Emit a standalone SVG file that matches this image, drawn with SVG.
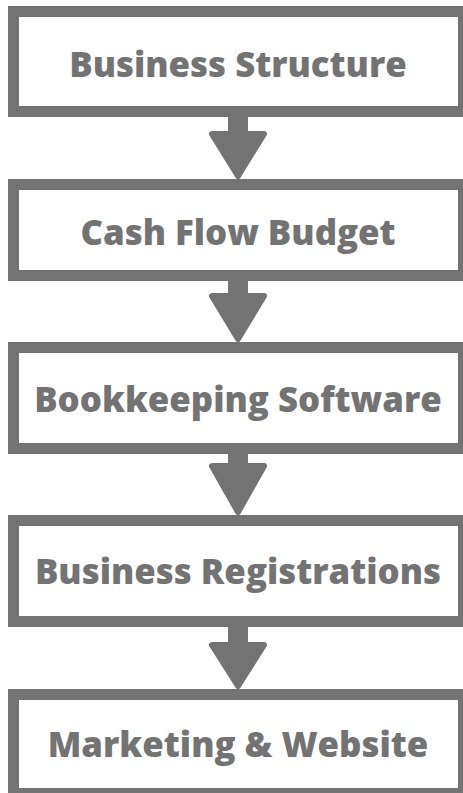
<svg xmlns="http://www.w3.org/2000/svg" width="463" height="793" viewBox="0 0 463 793">
<style>
.box{fill:#fff;stroke:#737373;stroke-width:11}
.lbl{font-family:"Open Sans","Noto Sans",sans-serif;font-weight:800;font-size:34.8px;fill:#737373;text-anchor:middle}
.arr{fill:#737373;stroke:#737373;stroke-width:6;stroke-linejoin:round}
</style>
<rect width="463" height="793" fill="#fff"/>
<g id="connectors">
<path class="arr" d="M231 117 H245 V134 H264 L238 176 L212 134 H231 Z"/>
<path class="arr" d="M231 281 H245 V296 H264 L238 339 L212 296 H231 Z"/>
<path class="arr" d="M231 454 H245 V466 H264 L238 512 L212 466 H231 Z"/>
<path class="arr" d="M231 627 H245 V645 H264 L238 686 L212 645 H231 Z"/>
</g>
<g id="n1"><rect class="box" x="13.5" y="11.5" width="450" height="100"/><text class="lbl" x="238" y="77">Business Structure</text></g>
<g id="n2"><rect class="box" x="13.5" y="184.5" width="450" height="91"/><text class="lbl" x="238" y="245">Cash Flow Budget</text></g>
<g id="n3"><rect class="box" x="13.5" y="347.5" width="450" height="101"/><text class="lbl" x="238" y="412">Bookkeeping Software</text></g>
<g id="n4"><rect class="box" x="13.5" y="520.5" width="450" height="101"/><text class="lbl" x="238" y="584">Business Registrations</text></g>
<g id="n5"><rect class="box" x="13.5" y="694.5" width="450" height="99"/><text class="lbl" x="238" y="757">Marketing &amp; Website</text></g>
</svg>
